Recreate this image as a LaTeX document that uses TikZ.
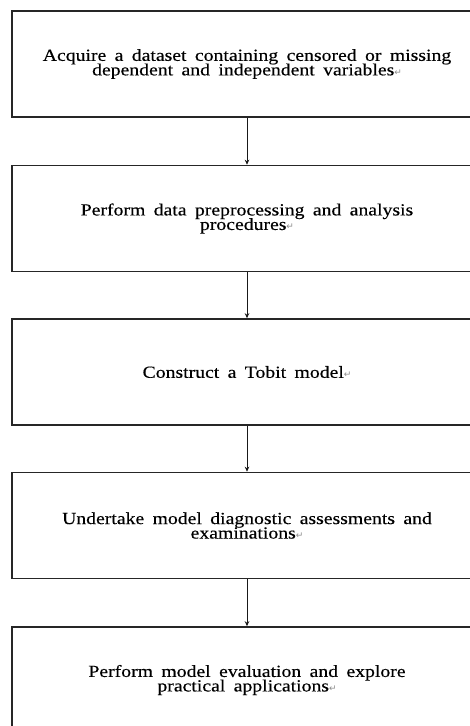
\documentclass[tikz,border=0pt]{standalone}
\usepackage{fontspec}
\setmainfont{Liberation Serif}[FakeStretch=1.16,WordSpace=1.7,FakeBold=0.3]
\newfontfamily\symfont{DejaVu Sans}
\usetikzlibrary{arrows.meta}
\newcommand{\retmark}{{\symfont\color{black!45}\fontsize{9}{9}\selectfont ↵}}
\setlength{\lineskiplimit}{-30pt}
\begin{document}
\begin{tikzpicture}[x=1pt,y=-1pt,
  stepbox/.style={draw=black!85, line width=1.6pt, minimum width=470pt,
    minimum height=106pt, inner sep=0pt, align=center,
    font=\fontsize{17}{14.5}\selectfont},
  flow/.style={draw=black!90, line width=0.8pt, -{Stealth[length=5pt,width=4.5pt]}}]
\useasboundingbox (0,0) rectangle (470,726);
\clip (0,0) rectangle (470,726);
\node[stepbox] (b1) at (247,64) {Acquire a dataset containing censored or missing\\dependent and independent variables\retmark};
\node[stepbox] (b2) at (247,218.5) {Perform data preprocessing and analysis\\procedures\retmark};
\node[stepbox] (b3) at (247,372) {Construct a Tobit model\retmark};
\node[stepbox] (b4) at (247,525.5) {Undertake model diagnostic assessments and\\examinations\retmark};
\node[stepbox] (b5) at (247,680) {Perform model evaluation and explore\\practical applications\retmark};
\draw[flow] (b1.south) -- (b2.north);
\draw[flow] (b2.south) -- (b3.north);
\draw[flow] (b3.south) -- (b4.north);
\draw[flow] (b4.south) -- (b5.north);
\end{tikzpicture}
\end{document}
